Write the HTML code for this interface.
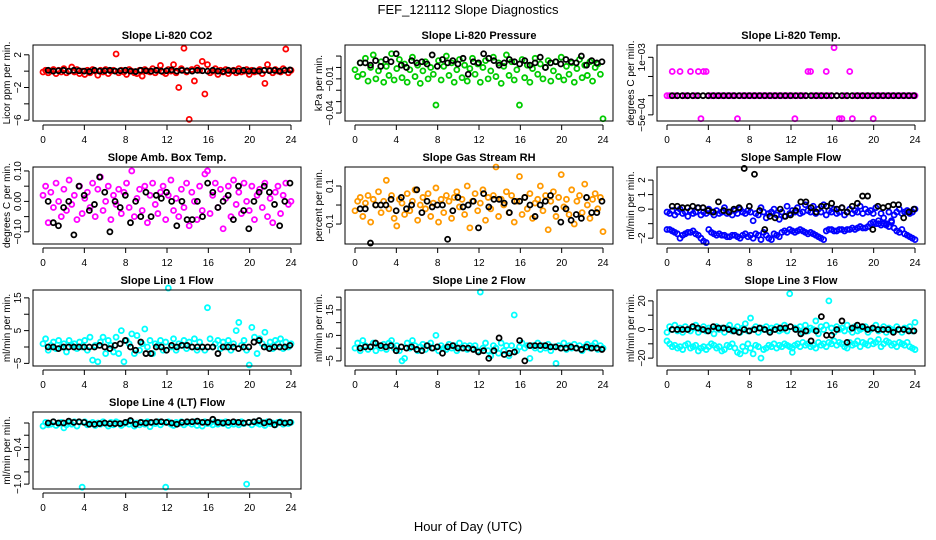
<!DOCTYPE html>
<html><head><meta charset="utf-8"><style>
body{margin:0;background:#fff}
svg{display:block;font-family:"Liberation Sans",Arial,sans-serif}
</style></head><body>
<svg id="chart" width="936" height="540" viewBox="0 0 936 540">
<text x="468" y="14" text-anchor="middle" font-size="13">FEF_121112  Slope Diagnostics</text>
<text x="468" y="531" text-anchor="middle" font-size="13">Hour of Day (UTC)</text>
</svg>
<script>
const xTicks=[0,4,8,12,16,20,24];
const co2Color=[-0.1,0.1,-0.2,0,0.2,-0.3,0.1,-0.1,0.3,-0.2,0,0.5,-0.1,0.2,-0.3,0,-0.4,0.1,-0.2,0.2,0,-0.5,0.1,-0.1,0.2,-0.3,0,0.1,2.1,-0.2,0.1,-0.1,-0.4,0.2,0,-0.2,-0.3,0.1,-0.6,0.2,0,-0.1,0.3,-0.2,0.1,0.7,-0.1,-0.3,0.2,0,0.8,-0.2,-2.0,0.3,2.8,-0.1,-5.9,0.2,-1.2,0.4,0.1,1.2,-2.8,0.8,-0.2,0,0.3,-0.4,0.1,-0.1,0.2,-0.3,0,0.1,-0.2,0.3,-0.1,0,0.2,-0.4,0.1,-0.1,0,0.2,-0.3,-1.5,0.8,0.1,-0.2,0.2,0,-0.1,0.3,2.7,-0.2,0.1];
const co2Black=[0.1,0,0.05,0.1,0,0.1,0.05,0,-0.05,0.1,0,0.05,0.1,0,0.05,0.1,0,-0.05,0.1,0.05,0,0.1,0,0.05,0.15,0,0.1,0.05,0,0.1,0.05,0,0.1,0,-0.05,0.1,0.05,0,0.1,0,0.05,0,0.1,0.05,0.1,0,0.1,0.15];
const presColor=[-0.002,-0.008,0.004,-0.006,0.008,-0.012,0.000,0.011,-0.010,-0.003,0.005,-0.013,0.001,-0.007,0.012,-0.011,-0.001,0.007,-0.009,0.003,-0.013,-0.002,0.009,-0.008,0.002,-0.014,-0.003,0.005,-0.010,0.000,-0.006,-0.033,0.006,-0.011,0.001,0.010,-0.007,0.004,-0.013,-0.002,0.007,-0.009,0.002,-0.012,-0.001,0.008,-0.006,0.003,-0.013,0.000,0.006,-0.010,-0.003,0.009,-0.008,0.004,-0.014,0.001,0.011,-0.007,0.005,-0.011,-0.002,-0.033,0.007,-0.009,0.002,-0.013,-0.001,0.008,-0.006,0.003,-0.010,0.000,0.006,-0.012,-0.003,0.005,-0.008,0.009,-0.011,0.001,-0.006,0.004,-0.013,-0.001,0.007,-0.009,0.002,-0.007,0.005,-0.012,0.000,0.003,-0.006,-0.045];
const presBlack=[0.004,0.004,0.002,0.006,0.001,0.007,0.005,0.012,0.002,0.000,0.006,0.004,0.005,0.003,0.011,0.001,0.007,0.004,0.006,0.003,0.008,-0.006,0.005,0.004,0.012,0.008,0.006,0.002,0.004,0.007,0.005,0.003,0.006,0.002,0.004,0.009,0.000,0.004,0.005,0.003,0.007,0.005,0.004,0.010,0.002,0.006,0.004,0.005];
const tempColor=[0,0,0.00063,0,0,0.00063,0,0,0,0.00063,0,0,0.00063,-0.0006,0.00063,0.00063,0,0,0,0,0,0,0,0,0,0,0,-0.0006,0,0,0,0,0,0,0,0,0,0,0,0,0,0,0,0,0,0,0,0,0,-0.0006,0,0,0,0,0.00063,0.00063,0,0,0,0,0,0.00063,0,0,0.00125,0,-0.0006,-0.0006,0,0,0.00063,-0.0006,0,0,0,0,0,0,0,-0.0006,0,0,0,0,0,0,0,0,0,0,0,0,0,0,0,0];
const tempBlack=[0,0,0,0,0,0,0,0,0,0,0,0,0,0,0,0,0,0,0,0,0,0,0,0,0,0,0,0,0,0,0,0,0,0,0,0,0,0,0,0,0,0,0,0,0,0,0,0];
const ambColor=[0.02,0.05,-0.07,0.03,-0.02,0.06,0.0,-0.05,0.04,-0.03,0.07,-0.01,0.02,-0.06,0.05,-0.04,0.01,0.03,-0.02,0.06,-0.05,0.04,0.08,-0.03,0.0,0.05,-0.06,0.02,-0.01,0.04,-0.04,0.03,0.06,-0.02,0.1,-0.05,0.01,0.04,-0.03,0.05,-0.07,0.02,0.06,-0.01,-0.04,0.03,0.05,-0.06,0.02,0.07,-0.03,0.01,-0.05,0.04,-0.02,0.06,-0.08,0.03,0.0,-0.06,0.05,-0.03,0.09,0.1,-0.04,0.02,0.06,-0.02,0.04,-0.09,0.01,0.05,-0.05,0.07,-0.01,0.03,-0.04,0.06,0.0,-0.03,0.05,-0.06,0.02,0.04,-0.02,0.06,-0.05,0.01,-0.07,0.03,0.05,-0.04,0.02,0.06,-0.01,0.0];
const ambBlack=[0.0,-0.07,-0.08,-0.02,0.0,-0.11,0.05,0.02,-0.03,-0.01,0.08,0.03,-0.1,0.0,-0.02,0.02,-0.07,0.0,-0.05,0.03,-0.05,0.02,0.01,0.03,0.0,-0.08,0.0,-0.06,-0.06,0.0,-0.05,0.06,0.03,-0.02,0.0,0.02,-0.06,0.05,-0.03,-0.09,0.0,0.03,0.05,0.03,-0.01,-0.08,0.0,0.06];
const rhColor=[-0.03,0.02,0.04,-0.06,0.01,0.05,-0.09,0.03,0.0,0.07,-0.04,0.02,0.13,-0.02,0.05,-0.07,-0.11,0.03,0.01,-0.05,0.06,-0.03,0.02,0.08,-0.08,0.0,0.04,-0.02,0.06,-0.06,0.01,0.09,-0.09,0.03,-0.04,0.05,0.02,-0.07,0.04,0.07,-0.01,0.03,-0.05,0.1,-0.12,0.02,0.06,-0.03,0.01,0.08,-0.08,0.04,-0.02,0.05,0.2,-0.06,0.03,0.0,0.07,-0.04,0.05,-0.09,0.02,0.15,-0.05,0.04,-0.02,0.06,-0.07,0.01,0.03,0.1,-0.03,0.05,-0.13,0.02,0.07,-0.06,0.04,0.16,-0.01,0.03,-0.05,0.08,-0.1,0.02,0.05,-0.04,0.11,0.0,-0.07,0.03,0.06,-0.02,0.04,-0.14];
const rhBlack=[-0.02,-0.02,-0.2,0.0,0.0,0.0,0.03,-0.03,0.04,-0.02,0.0,0.08,-0.04,0.02,-0.01,0.0,0.0,-0.18,-0.03,0.04,-0.01,0.0,0.02,-0.12,0.06,-0.01,0.03,0.03,0.01,-0.04,0.02,0.02,0.04,0.0,-0.06,0.0,0.02,0.05,-0.02,-0.09,-0.02,-0.08,-0.05,-0.07,0.04,-0.04,-0.04,0.02];
const sampleUpper=[-0.2,-0.3,-0.1,-0.4,-0.2,0.0,-0.3,-0.2,-0.5,-0.1,-0.3,-0.2,0.1,-0.4,-0.2,-0.3,0.0,-0.2,-0.4,-0.1,-0.3,-0.2,0.1,-0.3,-0.2,-0.4,-0.1,-0.3,0.0,-0.2,-0.3,-0.1,-0.2,-0.8,-0.3,-0.4,0.1,-0.2,-0.6,-0.3,-0.2,0.0,-0.4,-0.7,-0.2,-0.5,0.2,-0.3,-0.1,-0.2,0.1,-0.3,-0.2,0.3,-0.1,-0.2,0.2,-0.3,0.0,-0.2,0.3,-0.4,-0.1,-0.2,0.0,-0.3,-0.2,0.1,-0.4,-0.2,0.0,-0.3,-0.1,-0.2,0.2,-0.3,0.0,-0.2,-0.1,-0.3,0.1,-0.8,-0.3,-0.6,-1.0,-0.2,-0.9,-0.4,-0.2,0.0,-0.3,-0.2,-0.1,-0.3,-0.2,0.0];
const sampleLower=[-1.4,-1.4,-1.5,-1.6,-1.7,-2.0,-1.8,-1.7,-1.6,-1.6,-1.5,-1.7,-1.8,-2.0,-2.2,-2.3,-1.4,-1.6,-1.7,-1.8,-1.7,-1.8,-1.8,-1.9,-1.9,-1.8,-1.8,-1.9,-2.0,-1.8,-1.7,-1.9,-1.8,-2.0,-1.7,-1.8,-2.1,-1.6,-1.8,-2.0,-2.1,-1.7,-1.8,-1.9,-1.6,-1.5,-1.6,-1.4,-1.5,-1.6,-1.5,-1.4,-1.5,-1.6,-1.7,-1.6,-1.7,-1.8,-1.9,-2.0,-2.1,-1.5,-1.4,-1.4,-1.5,-1.5,-1.4,-1.4,-1.5,-1.4,-1.4,-1.3,-1.4,-1.3,-1.2,-1.3,-1.3,-1.2,-1.0,-0.9,-1.0,-1.0,-1.1,-1.0,-1.1,-1.2,-0.8,-1.3,-1.5,-1.6,-1.4,-1.7,-1.8,-1.9,-2.0,-2.1];
const sampleBlack=[0.2,0.2,0.1,0.1,0.2,0.1,0.1,-0.1,-0.2,0.5,-0.1,-0.2,0.0,0.1,2.8,0.2,2.4,-0.1,-1.4,-0.5,-0.6,0.0,-0.5,-0.4,-0.1,0.5,0.5,0.1,-0.2,0.2,0.2,0.4,0.0,0.1,-0.2,0.2,0.4,0.9,0.9,-1.4,0.2,0.1,0.2,0.3,0.3,-0.6,-0.2,0.0];
const line1Color=[1,2.5,-1,0.5,1.5,-0.5,2,0,1,-1.5,2,0.5,1,-0.5,1.5,0,2,-1,3,-4,0.5,-4.5,1.5,3,-2,2,0.5,-1.5,3,-2,5,-4.5,2,1,4,-2,3.5,-1,1,5.5,0,2,-2,1,0.5,2,-1,1.5,18,0,2.5,-1,1,0.5,2,-0.5,1.5,0,2.5,-1,1.5,0,-1,12,2.5,0,1,2,-0.5,1.5,0,2,-1,1,5,7.5,0.5,2,-1,-5.5,6,3,-2,2.5,1,4.5,0,1.5,-0.5,2,1,2.5,-0.5,1.5,0,1];
const line1Black=[0,0,-0.5,0,0,0,0,0,0,0,0.5,0,-0.5,0.5,1,2,0,-1,1.5,-2,-2,0,0,-1,0.5,0,0.5,0.5,0,0,0,0,0,-2,0,0,0,-0.5,0,0,1.5,2,0,-0.5,0,0,0,0.5];
const line2Color=[0,2,-1,3,1,-0.5,0.5,2,-1,1,0,1.5,-0.5,2,3,0,1,-1,-5,-4,2,0,3,1,-1,0.5,1.5,-0.5,1,2,0,5,-1,1,0,-0.5,1.5,0,1,-1,2,0,1,-0.5,1,0,1,-1,22,0,2,-1,-3,1,0,-2,2,-1,1,-3,1,13,-1,0.5,2,0,1,-4,1,0,2,-0.5,1,0,1.5,-1,0.5,-6,1,0,2,-0.5,1,0,1.5,0,1,-1,0.5,1.5,0,1,2,-0.5,1,0];
const line2Black=[0,0.5,0.5,2,1,0.5,1,-1,0.5,0,0.5,-0.5,-1,1,0,0.5,-2,0.5,1,0,0,0,-0.5,-1.5,-1,-4,-1,4,-2.5,-2,-1.5,3,-5,1,1,1,1,0.5,0.5,0,0,0.5,0,-0.5,0.5,0,0,-0.5];
const line3Upper=[-2,2,0,3,-1,1,-2,2,0,-1,1,3,-2,0,2,-1,1,0,-3,2,0,1,-2,1,3,-1,0,2,-2,1,4,-1,8,0,2,-2,1,0,2,-1,1,0,2,-1,0,3,-1,25,-16,1,0,2,-2,3,-1,1,0,6,-3,2,0,3,20,1,-2,2,0,1,-1,3,0,-2,2,-1,0,1,2,-2,0,1,3,-1,0,2,-2,1,0,-1,2,0,-2,1,0,2,-1,5];
const line3Lower=[-8,-10,-12,-11,-13,-12,-14,-11,-10,-13,-12,-11,-15,-13,-12,-14,-12,-10,-11,-13,-12,-15,-14,-11,-12,-10,-13,-16,-17,-12,-15,-10,-13,-17,-11,-12,-20,-14,-13,-11,-12,-10,-13,-11,-12,-10,-11,-12,-13,-11,-10,-12,-9,-11,-10,-12,-11,-13,-9,-11,-10,-12,-9,-10,-8,-11,-9,-10,-12,-13,-9,-11,-10,-8,-12,-9,-10,-11,-8,-10,-9,-7,-12,-10,-8,-9,-11,-10,-12,-9,-10,-11,-9,-12,-13,-14];
const line3Black=[0,0,0,0,2,1,0,-1,2,1,1,0,-1,-2,0,-1,0,1,0,-2,0,1,1,2,0,-3,-1,-8,-1,9,-4,-4,0,6,-9,1,3,2,0,1,0,0,0,-2,0,0,-1,-1];
const line4Color=[-0.05,0.01,-0.03,-0.02,0.02,-0.04,-0.01,0.01,-0.08,-0.03,0.0,-0.02,0.02,-0.05,0.01,-1.05,0.02,-0.03,-0.01,0.01,-0.04,0.0,-0.02,0.02,-0.01,-0.05,0.01,-0.03,0.02,0.0,-0.04,-0.01,0.01,-0.02,0.02,-0.05,0.0,-0.03,0.01,-0.02,0.02,-0.06,0.0,-0.01,0.02,-0.03,0.01,-1.05,0.02,-0.02,-0.04,0.01,-0.01,0.02,-0.03,0.0,0.01,-0.02,0.02,-0.04,0.01,-0.05,0.02,-0.01,0.0,-0.03,0.02,-0.02,0.01,-0.01,0.02,-0.04,0.0,-0.02,0.01,-0.03,0.02,-0.01,-1.0,0.01,-0.03,0.02,0.0,-0.02,0.01,-0.04,0.02,-0.01,0.0,-0.03,0.01,0.02,-0.02,0.0,-0.01,0.01];
const line4Black=[0,0.02,0,0,0.03,0.01,0.02,0.01,-0.02,-0.02,-0.01,0,-0.01,-0.01,-0.01,0.01,0.04,-0.02,0.01,0,0.01,0.02,0.02,0.01,0,-0.02,0.01,0.02,0.02,0.03,0.01,0.01,0.06,0.01,0,0.01,0.02,0.01,0,0.01,0.02,0.04,0,0.02,-0.03,0.01,0,0.01];

const NS='http://www.w3.org/2000/svg';
const svg=document.getElementById('chart');
function mk(tag,attrs,parent){const e=document.createElementNS(NS,tag);for(const k in attrs)e.setAttribute(k,attrs[k]);(parent||svg).appendChild(e);return e;}
const colX=[43,355,667];
const rowY=[[45,121],[167,244],[290,366],[412,489]];
const panels=[
 {key:'co2',title:'Slope Li-820 CO2',ylab:'Licor ppm per min.',c:0,r:0,ymin:-6.1,ymax:3.2,ticks:[2,0,-2,-4,-6],labels:['2','','\u22122','','\u22126'],series:[[co2Color,'#ff0000']],black:co2Black},
 {key:'pressure',title:'Slope Li-820 Pressure',ylab:'kPa per min.',c:1,r:0,ymin:-0.047,ymax:0.0197,ticks:[0.01,0,-0.01,-0.02,-0.03,-0.04],labels:['','','\u22120.01','','','\u22120.04'],series:[[presColor,'#00cc00']],black:presBlack},
 {key:'temp',title:'Slope Li-820 Temp.',ylab:'degrees C per min.',c:2,r:0,ymin:-0.00066,ymax:0.00132,ticks:[0.001,0.0005,0,-0.0005],labels:['1e\u221203','','','\u22125e\u221204'],series:[[tempColor,'#ff00ff']],black:tempBlack},
 {key:'ambtemp',title:'Slope Amb. Box Temp.',ylab:'degrees C per min.',c:0,r:1,ymin:-0.14,ymax:0.113,ticks:[0.1,0.05,0,-0.05,-0.1],labels:['0.10','','0.00','','\u22120.10'],series:[[ambColor,'#ff00ff']],black:ambBlack},
 {key:'rh',title:'Slope Gas Stream RH',ylab:'percent per min.',c:1,r:1,ymin:-0.205,ymax:0.2,ticks:[0.1,0,-0.1],labels:['0.1','','\u22120.1'],series:[[rhColor,'#ff9900']],black:rhBlack},
 {key:'sampleflow',title:'Slope Sample Flow',ylab:'ml/min per min.',c:2,r:1,ymin:-2.4,ymax:2.9,ticks:[2,1,0,-1,-2],labels:['2','1','0','','\u22122'],series:[[sampleUpper,'#0000ff'],[sampleLower,'#0000ff']],black:sampleBlack},
 {key:'line1',title:'Slope Line 1 Flow',ylab:'ml/min per min.',c:0,r:2,ymin:-5.8,ymax:17.4,ticks:[15,10,5,0,-5],labels:['15','','5','','\u22125'],series:[[line1Color,'#00ffff']],black:line1Black},
 {key:'line2',title:'Slope Line 2 Flow',ylab:'ml/min per min.',c:1,r:2,ymin:-7,ymax:22.8,ticks:[20,15,10,5,0,-5],labels:['','15','','5','','\u22125'],series:[[line2Color,'#00ffff']],black:line2Black},
 {key:'line3',title:'Slope Line 3 Flow',ylab:'ml/min per min.',c:2,r:2,ymin:-25.5,ymax:27.6,ticks:[20,10,0,-10,-20],labels:['20','','0','','\u221220'],series:[[line3Upper,'#00ffff'],[line3Lower,'#00ffff']],black:line3Black},
 {key:'line4',title:'Slope Line 4 (LT) Flow',ylab:'ml/min per min.',c:0,r:3,ymin:-1.08,ymax:0.18,ticks:[0,-0.2,-0.4,-0.6,-0.8,-1.0],labels:['','','\u22120.4','','','\u22121.0'],series:[[line4Color,'#00ffff']],black:line4Black}
];
panels.forEach(p=>{
 const x0=colX[p.c], L=x0-10, R=x0+258, T=rowY[p.r][0], B=rowY[p.r][1];
 const xs=h=>x0+h*248/24;
 const ys=v=>B-(v-p.ymin)/(p.ymax-p.ymin)*(B-T);
 const g=mk('g',{});
 
 
 const t=mk('text',{x:(L+R)/2,y:T-6,'text-anchor':'middle','font-size':'11','font-weight':'bold'},g);
 
 
 t.textContent=p.title;
 const pts=mk('g',{fill:'none','stroke-width':'1.8'},g);
 
 
 p.series.forEach(([arr,col])=>{
  arr.forEach((v,i)=>{
   const c=mk('circle',{cx:xs(i*24/(arr.length-1)),cy:ys(v),r:2.5,stroke:col},pts);
   
   
  });
 });
 p.black.forEach((v,i)=>{
  const c=mk('circle',{cx:xs(0.5+i*23.4/(p.black.length-1)),cy:ys(v),r:2.5,stroke:'#000'},pts);
  
  
 });
 const box=mk('rect',{x:L,y:T,width:R-L,height:B-T,fill:'none',stroke:'#000','stroke-width':'1'},g);
 
 
 const xa=mk('g',{},g);
 
 
 mk('line',{x1:xs(0),x2:xs(24),y1:B+4,y2:B+4,stroke:'#000'},xa);
 xTicks.forEach(h=>{
  mk('line',{x1:xs(h),x2:xs(h),y1:B+4,y2:B+9,stroke:'#000'},xa);
  const tl=mk('text',{x:xs(h),y:B+22,'text-anchor':'middle','font-size':'10'},xa);
  
  
  tl.textContent=h;
 });
 const ya=mk('g',{},g);
 
 
 mk('line',{x1:L-4,x2:L-4,y1:ys(p.ticks[0]),y2:ys(p.ticks[p.ticks.length-1]),stroke:'#000'},ya);
 p.ticks.forEach((v,i)=>{
  mk('line',{x1:L-9,x2:L-4,y1:ys(v),y2:ys(v),stroke:'#000'},ya);
  if(p.labels[i]){
   const yl=mk('text',{x:0,y:0,'text-anchor':'middle','font-size':'10',transform:`translate(${L-12},${ys(v)}) rotate(-90)`},ya);
   
   
   yl.textContent=p.labels[i];
  }
 });
 const yt=mk('text',{x:0,y:0,'text-anchor':'middle','font-size':'10',transform:`translate(${L-23},${(T+B)/2}) rotate(-90)`},g);
 
 
 yt.textContent=p.ylab;
});
</script>
</body></html>
